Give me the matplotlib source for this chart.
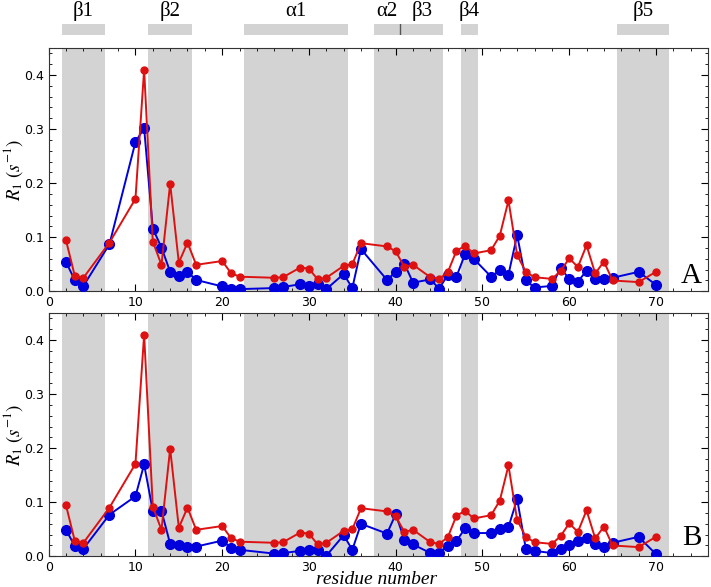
import matplotlib
matplotlib.use("Agg")
import matplotlib.pyplot as plt
import matplotlib.transforms as mtransforms
from matplotlib.ticker import MultipleLocator

plt.rcParams['mathtext.fontset'] = 'stix'

# ---------------- data ----------------
residues_red = [2, 3, 4, 7, 10, 11, 12, 13, 14, 15, 16, 17, 20, 21, 22, 26, 27, 29, 30, 31,
                32, 34, 35, 36, 39, 40, 41, 42, 44, 45, 46, 47, 48, 49, 51, 52, 53, 54, 55, 56,
                58, 59, 60, 61, 62, 63, 64, 65, 68, 70]
r1_exp = [0.094, 0.029, 0.025, 0.090, 0.171, 0.410, 0.092, 0.049, 0.199, 0.053,
          0.090, 0.049, 0.056, 0.034, 0.027, 0.025, 0.026, 0.044, 0.042, 0.022,
          0.025, 0.047, 0.050, 0.089, 0.083, 0.074, 0.045, 0.049, 0.026, 0.023,
          0.035, 0.075, 0.084, 0.070, 0.076, 0.103, 0.168, 0.067, 0.036, 0.026,
          0.023, 0.037, 0.061, 0.045, 0.085, 0.033, 0.055, 0.020, 0.017, 0.036]

residues_blue = [2, 3, 4, 7, 10, 11, 12, 13, 14, 15, 16, 17, 20, 21, 22, 26, 27, 29, 30, 31,
                 32, 34, 35, 36, 39, 40, 41, 42, 44, 45, 46, 47, 48, 49, 51, 52, 53, 54, 55, 56,
                 58, 59, 60, 61, 62, 63, 64, 65, 68, 70]
r1_model_A = [0.054, 0.021, 0.010, 0.087, 0.276, 0.302, 0.116, 0.081, 0.036, 0.028,
              0.036, 0.021, 0.009, 0.004, 0.004, 0.006, 0.008, 0.013, 0.010, 0.014,
              0.004, 0.032, 0.006, 0.078, 0.021, 0.036, 0.051, 0.016, 0.022, 0.005,
              0.030, 0.027, 0.069, 0.060, 0.027, 0.039, 0.031, 0.104, 0.020, 0.007,
              0.010, 0.043, 0.023, 0.018, 0.038, 0.023, 0.023, 0.025, 0.036, 0.012]
r1_model_B = [0.049, 0.019, 0.014, 0.077, 0.111, 0.170, 0.084, 0.084, 0.023, 0.020,
              0.018, 0.018, 0.029, 0.016, 0.012, 0.005, 0.006, 0.010, 0.012, 0.012,
              0.001, 0.039, 0.012, 0.060, 0.042, 0.078, 0.031, 0.022, 0.006, 0.007,
              0.019, 0.028, 0.052, 0.043, 0.043, 0.050, 0.054, 0.106, 0.014, 0.010,
              0.006, 0.013, 0.021, 0.028, 0.034, 0.022, 0.018, 0.025, 0.036, 0.004]

ss_labels = ['β1', 'β2', 'α1', 'α2', 'β3', 'β4', 'β5']
ss_start = [1.5, 11.5, 22.5, 37.5, 40.5, 47.5, 65.5]
ss_end = [6.5, 16.5, 34.5, 40.5, 45.5, 49.5, 71.5]

panel_letters = ['A', 'B']

# ---------------- figure ----------------
W, H = 711, 587
fig = plt.figure(figsize=(W / 100, H / 100), dpi=100)

left = 48.7 / W
width = (708 - 48.7) / W
ax_top = fig.add_axes([left, 1 - 291.3 / H, width, (291.3 - 48) / H])
ax_bot = fig.add_axes([left, 1 - 556.3 / H, width, (556.3 - 313) / H])

shade = '#d3d3d3'
red = '#dd1111'
blue = '#0000dd'

for ax, model, letter, ly in zip([ax_top, ax_bot], [r1_model_A, r1_model_B],
                                 panel_letters, [0.034, 0.046]):
    for s, e in zip(ss_start, ss_end):
        ax.axvspan(s, e, color=shade, lw=0, zorder=0)
    ax.plot(residues_blue, model, '-o', color=blue, lw=1.4, ms=7, zorder=3)
    ax.plot(residues_red, r1_exp, '-o', color=red, lw=1.4, ms=5, zorder=4)
    ax.set_xlim(0, 76)
    ax.set_ylim(0, 0.45)
    ax.xaxis.set_major_locator(MultipleLocator(10))
    ax.xaxis.set_minor_locator(MultipleLocator(2))
    ax.yaxis.set_major_locator(MultipleLocator(0.1))
    ax.yaxis.set_minor_locator(MultipleLocator(0.02))
    ax.tick_params(which='both', direction='in', top=True, right=True, labelsize=9)
    ax.tick_params(which='major', length=5, width=0.8)
    ax.tick_params(which='minor', length=2.5, width=0.6)
    for sp in ax.spines.values():
        sp.set_linewidth(0.8)
        sp.set_color('#333333')
    ax.set_ylabel(r'$R_1\ (s^{-1})$', fontsize=13.5)
    ax.yaxis.set_label_coords(-0.036, 0.5)
    ax.text(0.99, ly, letter, transform=ax.transAxes, ha='right', va='baseline',
            fontsize=21, family='Liberation Serif')

# x label placed by its baseline just above the bottom edge
ax_bot.text(0.498, 1 - 584 / H, 'residue number', transform=mtransforms.blended_transform_factory(
    ax_bot.transAxes, fig.transFigure), ha='center', va='baseline', fontsize=14,
    family='Liberation Serif', style='italic')

# secondary structure strip
ax_ss = fig.add_axes([left, 1 - 35 / H, width, 11 / H])
ax_ss.set_xlim(0, 76)
ax_ss.set_ylim(0, 1)
ax_ss.axis('off')
trans = mtransforms.blended_transform_factory(ax_ss.transData, fig.transFigure)
for lab, s, e in zip(ss_labels, ss_start, ss_end):
    ax_ss.axvspan(s, e, color=shade, lw=0)
    ax_ss.text((s + e) / 2, 1 - 11 / H, lab, transform=trans, ha='center', va='center',
               fontsize=15, family='Liberation Serif')
for s, e in zip(ss_start[1:], ss_end[:-1]):
    if s == e:
        ax_ss.axvline(s, color='#555555', lw=1)

fig.savefig('out.png', dpi=100)
